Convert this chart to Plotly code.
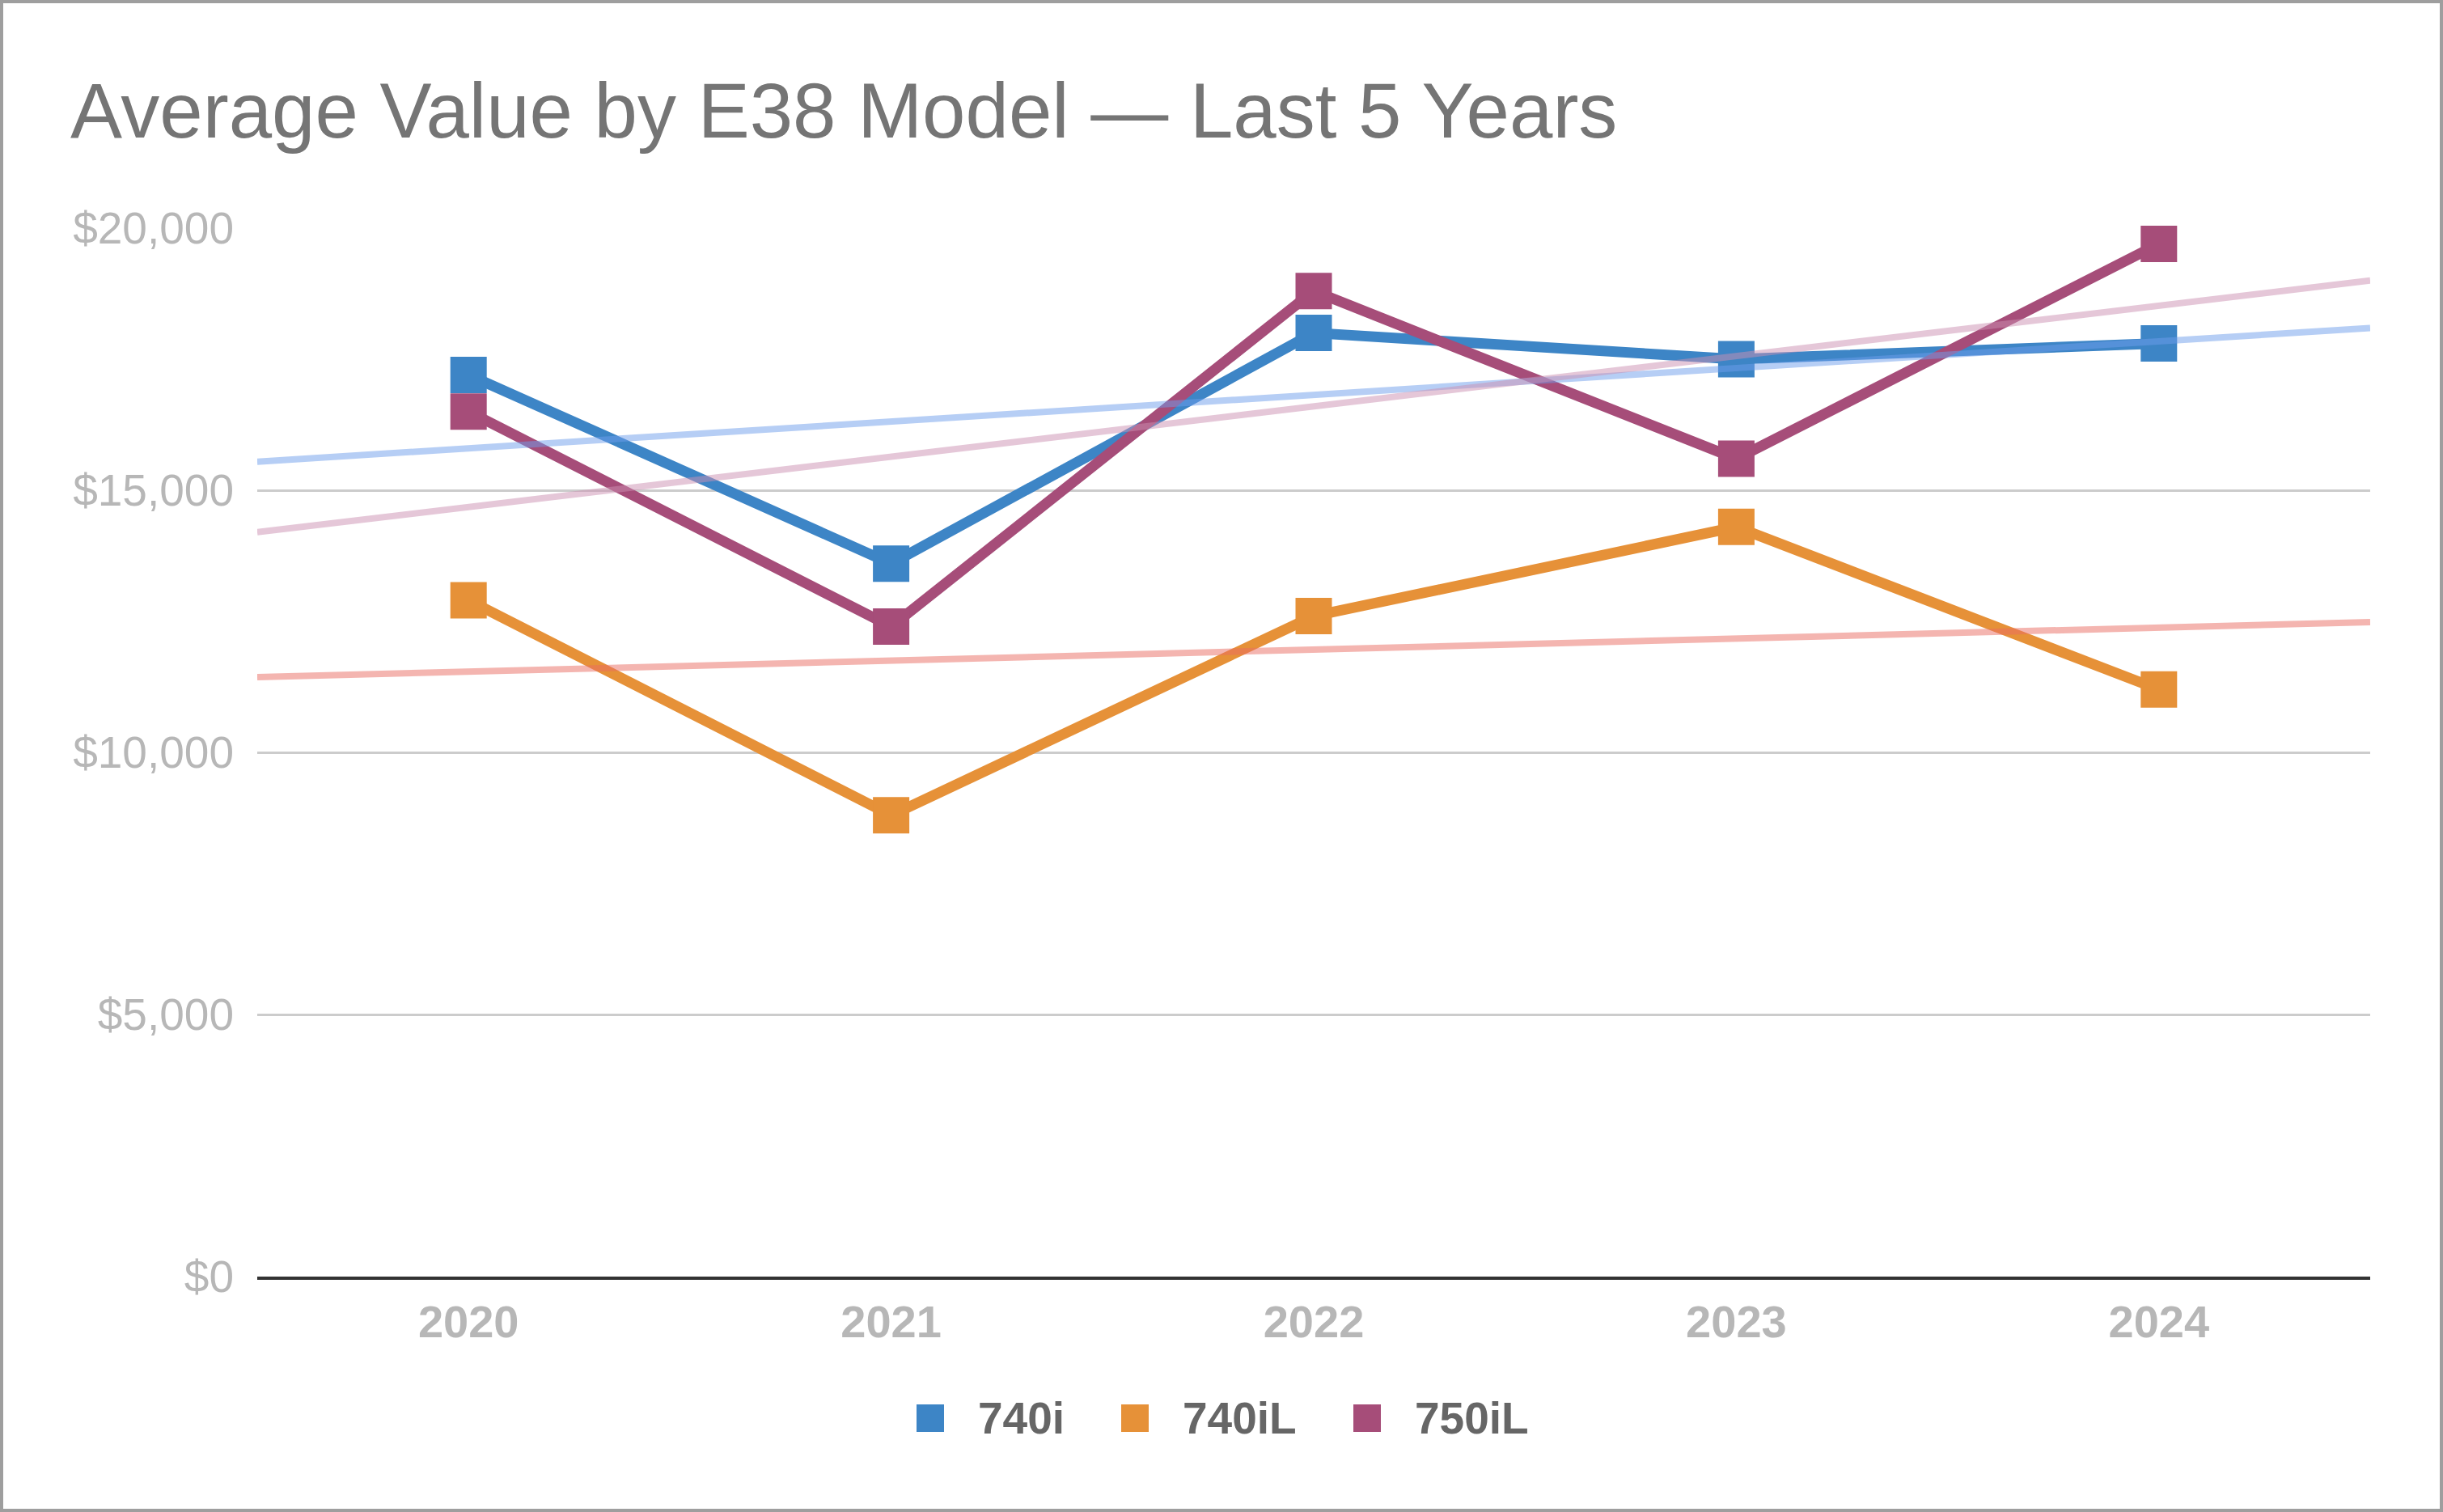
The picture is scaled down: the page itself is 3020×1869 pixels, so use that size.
import numpy as np
import plotly.graph_objects as go

# ---- data ----
years = [2020, 2021, 2022, 2023, 2024]
series_names = ["740i", "740iL", "750iL"]
vals_740i = [17200, 13600, 18000, 17500, 17800]
vals_740iL = [12900, 8800, 12600, 14300, 11200]
vals_750iL = [16500, 12400, 18800, 15600, 19700]
y_ticks = [0, 5000, 10000, 15000, 20000]
y_tick_labels = ["$0", "$5,000", "$10,000", "$15,000", "$20,000"]

# ---- styling ----
W, H = 3020, 1869
L, R, T, B = 318, 90, 282, 291
PW, PH = W - L - R, H - T - B
colors = ["#3d85c6", "#e69138", "#a64d79"]
trend_colors = ["rgba(109,158,235,0.5)", "rgba(234,107,97,0.5)", "rgba(204,143,177,0.5)"]
FONT = "Arial, Liberation Sans, sans-serif"

def px_x(p):
    return (p - L) / PW

def px_y(p):
    return (H - B - p) / PH

fig = go.Figure()
all_vals = [vals_740i, vals_740iL, vals_750iL]

for name, vals, c in zip(series_names, all_vals, colors):
    fig.add_trace(go.Scatter(
        x=years, y=vals, name=name, mode="lines+markers",
        line=dict(color=c, width=13),
        marker=dict(symbol="square", size=45, color=c),
        cliponaxis=False, showlegend=False,
    ))

x_ext = np.array([years[0] - 0.5, years[-1] + 0.5])
for name, vals, tc in zip(series_names, all_vals, trend_colors):
    k, b0 = np.polyfit(years, vals, 1)
    fig.add_trace(go.Scatter(
        x=x_ext, y=k * x_ext + b0, mode="lines",
        line=dict(color=tc, width=8), showlegend=False, hoverinfo="skip",
    ))

# manual legend (large square swatches)
leg_sq = [1133, 1386, 1673]
leg_tx = [1207, 1460, 1747]
leg_cy = 1753
shapes = []
annotations = []
for name, c, sx, tx in zip(series_names, colors, leg_sq, leg_tx):
    shapes.append(dict(type="rect", xref="paper", yref="paper",
                       x0=px_x(sx), x1=px_x(sx + 34), y0=px_y(leg_cy - 17), y1=px_y(leg_cy + 17),
                       fillcolor=c, line=dict(width=0), layer="above"))
    annotations.append(dict(text=name, xref="paper", yref="paper", x=px_x(tx), y=px_y(leg_cy),
                            xanchor="left", yanchor="middle", showarrow=False,
                            font=dict(family=FONT, size=55, color="#666666", weight="bold")))

# outer border
shapes.append(dict(type="rect", xref="paper", yref="paper",
                   x0=px_x(2), x1=px_x(W - 2), y0=px_y(2), y1=px_y(H - 2),
                   line=dict(color="#9e9e9e", width=4), fillcolor="rgba(0,0,0,0)", layer="above"))

fig.update_layout(
    width=W, height=H,
    margin=dict(l=L, r=R, t=T, b=B, pad=0),
    paper_bgcolor="white", plot_bgcolor="white",
    title=dict(text="Average Value by E38 Model — Last 5 Years",
               x=87 / W, xref="container", xanchor="left",
               y=1 - 170 / H, yref="container", yanchor="bottom",
               font=dict(family=FONT, size=96, color="#757575")),
    xaxis=dict(range=[years[0] - 0.5, years[-1] + 0.5], tickvals=years,
               ticktext=[str(y) for y in years], showgrid=False, zeroline=False,
               showline=True, linecolor="#333333", linewidth=4, ticks="",
               ticklabelstandoff=4,
               tickfont=dict(family=FONT, size=56, color="#b7b7b7", weight="bold")),
    yaxis=dict(range=[0, 20000], tickvals=y_ticks, ticktext=y_tick_labels,
               showgrid=True, gridcolor="#cccccc", gridwidth=3, zeroline=False,
               showline=False, ticks="", ticklabelstandoff=28,
               tickfont=dict(family=FONT, size=55, color="#b7b7b7")),
    shapes=shapes, annotations=annotations, showlegend=False,
)

fig.write_html("out.html", config={"displayModeBar": False},
               post_script="document.body.style.margin='0';document.body.style.overflow='hidden';")
